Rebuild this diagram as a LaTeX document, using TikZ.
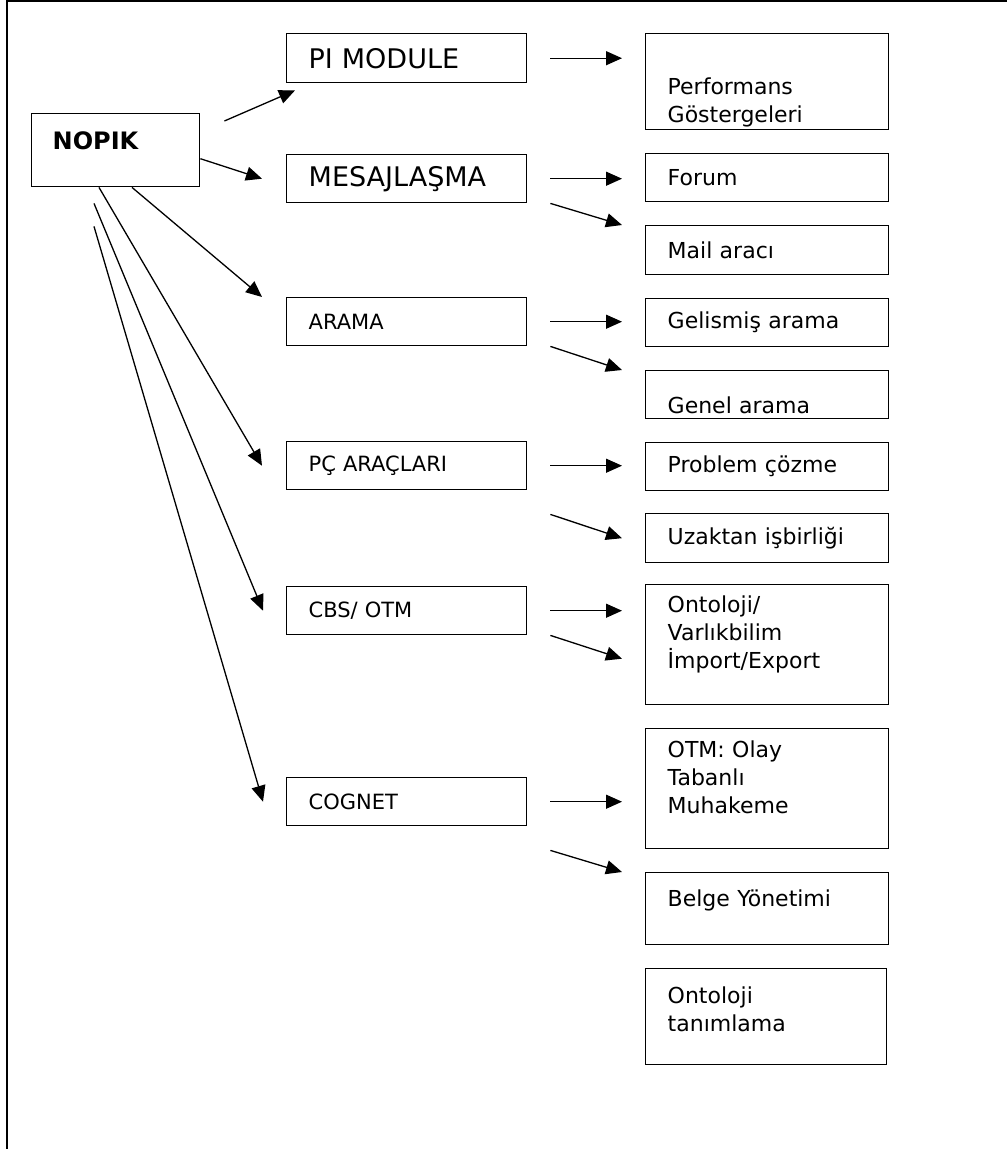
\documentclass[tikz,border=0pt]{standalone}
\usepackage{fontspec}
\setmainfont{DejaVu Sans}
\usetikzlibrary{arrows.meta}

\tikzset{
  box/.style={draw, line width=1.4pt, anchor=north west, inner xsep=22pt, inner ysep=0pt,
    align=left, font=\fontsize{22}{28}\selectfont},
  mainbox/.style={box, text width=196pt, minimum height=48pt, font=\fontsize{21}{26}\selectfont},
  subbox/.style={box, text width=199pt},
  arr/.style={-{Triangle[length=16pt,width=14pt]}, line width=1.3pt},
}

\begin{document}
\begin{tikzpicture}[x=1pt,y=-1pt]
\useasboundingbox (0,0) rectangle (1007,1149);
% frame
\draw[line width=2pt] (7,1149) -- (7,1) -- (1007,1);

% root
\node[box, text width=126pt, inner xsep=21pt, minimum height=73pt, text depth=20pt,
  font=\bfseries\fontsize{24}{29}\selectfont] (nopik) at (31,113) {NOPIK};

% modules
\node[mainbox, font=\fontsize{27}{32}\selectfont, minimum height=49pt] (pi) at (286,33) {PI MODULE};
\node[mainbox, font=\fontsize{27}{32}\selectfont] (msg) at (286,154) {MESAJLAŞMA};
\node[mainbox] (arama) at (286,297) {ARAMA};
\node[mainbox] (pc) at (286,441) {PÇ ARAÇLARI};
\node[mainbox] (cbs) at (286,586) {CBS/ OTM};
\node[mainbox] (cog) at (286,777) {COGNET};

% tools
\node[subbox, minimum height=96pt, text height=58pt] (perf) at (645,33) {Performans\\Göstergeleri};
\node[subbox, minimum height=48pt] (forum) at (645,153) {Forum};
\node[subbox, minimum height=49pt] (mail) at (645,225) {Mail aracı};
\node[subbox, minimum height=48pt] (gelis) at (645,298) {Gelismiş arama};
\node[subbox, minimum height=48pt, text height=38pt] (genel) at (645,370) {Genel arama};
\node[subbox, minimum height=48pt] (prob) at (645,442) {Problem çözme};
\node[subbox, minimum height=49pt] (uzak) at (645,513) {Uzaktan~işbirliği};
\node[subbox, minimum height=120pt, text depth=81pt] (onto) at (645,584) {Ontoloji/\\Varlıkbilim\\İmport/Export};
\node[subbox, minimum height=120pt, text depth=79pt] (otm) at (645,728) {OTM: Olay\\Tabanlı\\Muhakeme};
\node[subbox, minimum height=72pt, text depth=22pt] (belge) at (645,872) {Belge Yönetimi};
\node[subbox, text width=197pt, minimum height=96pt, text depth=43pt] (tanim) at (645,968) {Ontoloji\\tanımlama};

% root to modules
\draw[arr] ([shift={(24,8)}]nopik.north east) -- ([shift={(9,7)}]pi.south west);
\draw[arr] ([yshift=-8.5pt]nopik.east) -- ([xshift=-24pt]msg.west);
\draw[arr] ([xshift=101pt]nopik.south west) -- ([xshift=-24pt]arama.north west);
\draw[arr] ([xshift=68pt]nopik.south west) -- ([xshift=-24pt]pc.west);
\draw[arr] ([shift={(63,16)}]nopik.south west) -- ([xshift=-23pt]cbs.west);
\draw[arr] ([shift={(63,39)}]nopik.south west) -- ([xshift=-23pt]cog.west);

% modules to tools
\draw[arr] ([xshift=23pt]pi.east) -- ([xshift=-23pt]perf.west |- pi.east);
\draw[arr] ([xshift=23pt]msg.east) -- ([xshift=-23pt]forum.west |- msg.east);
\draw[arr] ([xshift=23pt]msg.south east) -- ([xshift=-23pt]mail.north west);
\draw[arr] ([xshift=23pt]arama.east) -- ([xshift=-23pt]gelis.west |- arama.east);
\draw[arr] ([xshift=23pt]arama.south east) -- ([xshift=-23pt]genel.north west);
\draw[arr] ([xshift=23pt]pc.east) -- ([xshift=-23pt]prob.west |- pc.east);
\draw[arr] ([shift={(23,24)}]pc.south east) -- ([xshift=-23pt]uzak.west);
\draw[arr] ([xshift=23pt]cbs.east) -- ([xshift=-23pt]onto.west |- cbs.east);
\draw[arr] ([xshift=23pt]cbs.south east) -- ([shift={(-23,14)}]onto.west);
\draw[arr] ([xshift=23pt]cog.east) -- ([xshift=-23pt]otm.west |- cog.east);
\draw[arr] ([shift={(23,24)}]cog.south east) -- ([xshift=-23pt]belge.north west);
\end{tikzpicture}
\end{document}
